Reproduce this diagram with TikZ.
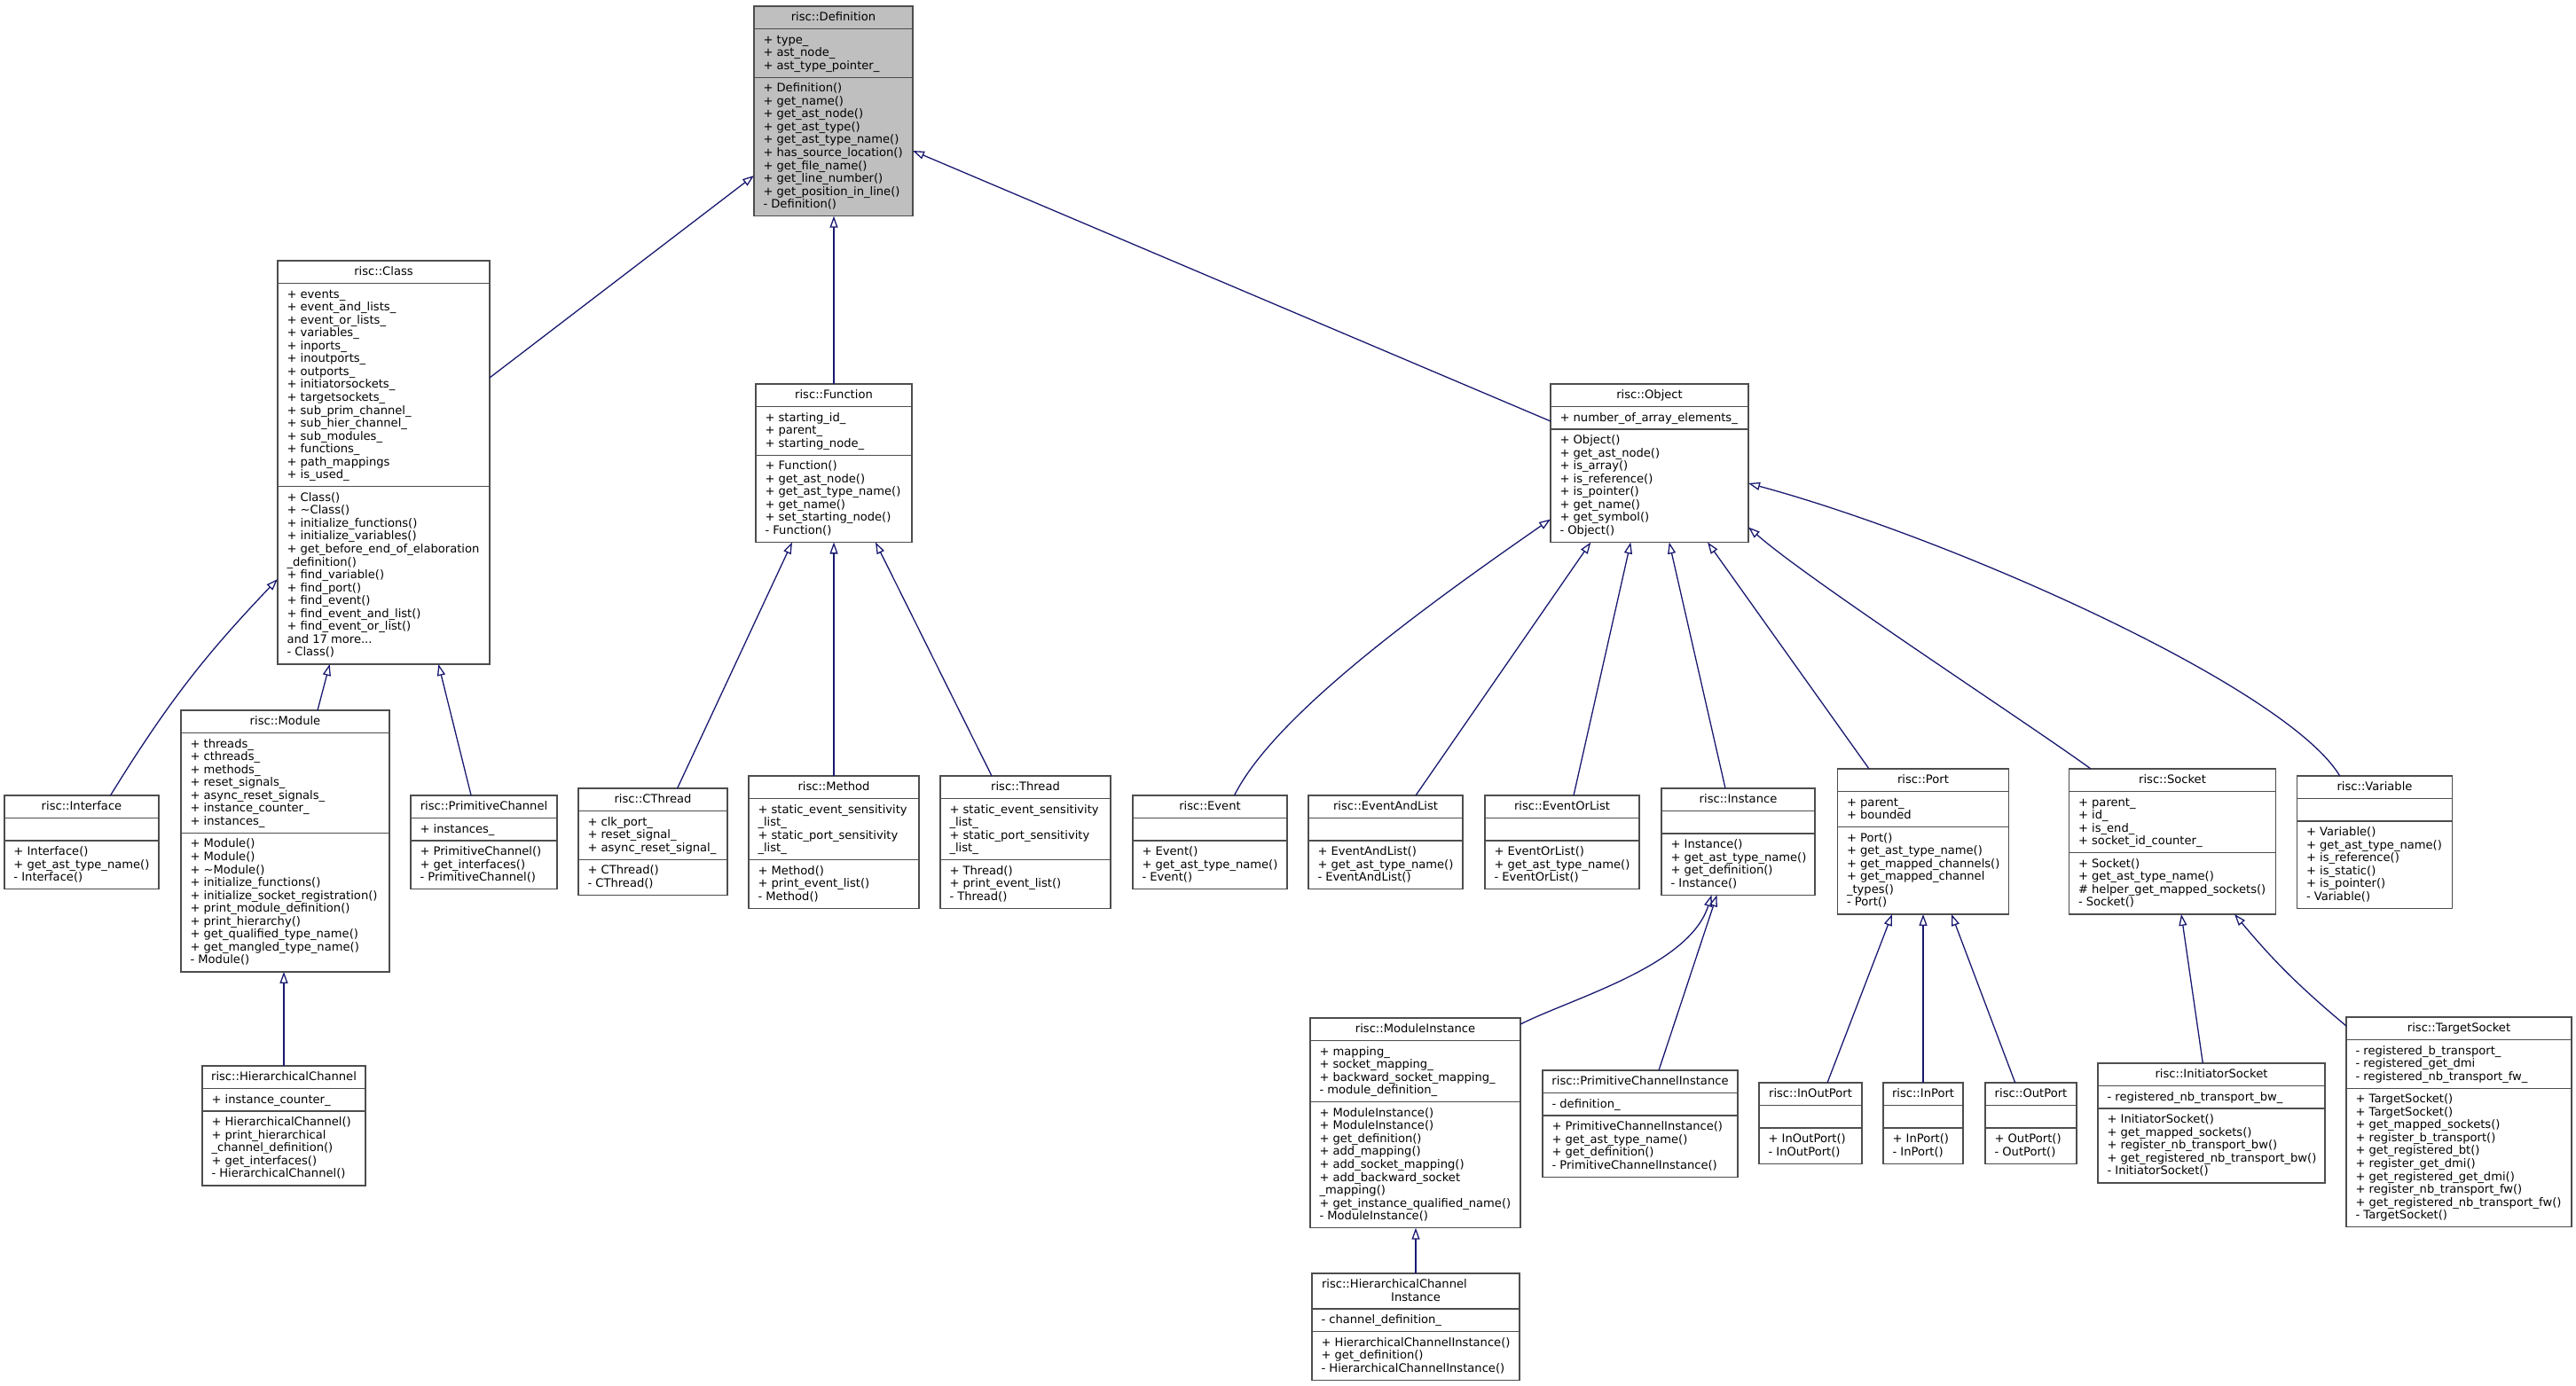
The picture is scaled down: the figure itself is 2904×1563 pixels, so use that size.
\documentclass[tikz,border=0pt]{standalone}
\usepackage{fontspec}
\setmainfont{DejaVu Sans}
\usetikzlibrary{arrows.meta}
\definecolor{edgeblue}{HTML}{191970}
\definecolor{boxline}{HTML}{4D4D4D}
\definecolor{rootfill}{HTML}{BFBFBF}
\newcommand\umlstrut{\vrule height 11pt depth 0pt width 0pt\relax}
\def\umlcounts#1/#2/#3\relax{\def\umlna{#1}\def\umlnb{#2}\def\umlnc{#3}}
\tikzset{
  umlframe/.style={draw=boxline, line width=1.3pt, fill=white, inner sep=0pt, outer sep=0pt, anchor=north west},
  rootframe/.style={fill=rootfill},
  umlsep/.style={draw=boxline, line width=1.3pt},
  umltext/.style={inner sep=0pt, outer sep=0pt, text=black, font=\fontsize{13.1}{14.55}\selectfont, align=left, anchor=north west},
  umltitle/.style={inner sep=0pt, outer sep=0pt, text=black, font=\fontsize{13.1}{14.55}\selectfont, align=center, anchor=north},
  inherit/.style={draw=edgeblue, line width=1.3pt, -{Triangle[open, length=13pt, width=9pt]}},
}
\newcommand\umlbox[9][]{%
  \umlcounts#6\relax
  \pgfmathsetmacro\umlha{11+14.55*max(\umlna,1)}%
  \pgfmathsetmacro\umlhb{11+14.55*max(\umlnb,1)}%
  \pgfmathsetmacro\umlhc{11+14.55*max(\umlnc,1)}%
  \pgfmathsetmacro\umlhab{\umlha+\umlhb}%
  \pgfmathsetmacro\umlhtot{\umlhab+\umlhc}%
  \node[umlframe,#1,minimum width=#5pt,minimum height=\umlhtot pt] (#2) at (#3,#4) {};
  \draw[umlsep] ([yshift=-\umlha pt]#2.north west) -- ([yshift=-\umlha pt]#2.north east);
  \draw[umlsep] ([yshift=-\umlhab pt]#2.north west) -- ([yshift=-\umlhab pt]#2.north east);
  \node[umltitle] (#2-title) at ([yshift=-5.5pt]#2.north) {\umlstrut#7};
  \node[umltext] (#2-attr) at ([xshift=10.5pt,yshift=-\umlha pt-5.5pt]#2.north west) {\umlstrut#8};
  \node[umltext] (#2-meth) at ([xshift=10.5pt,yshift=-\umlhab pt-5.5pt]#2.north west) {\umlstrut#9};
}
\begin{document}
\begin{tikzpicture}[x=1pt,y=-1pt]
\catcode`\_=12\relax
\useasboundingbox (0,0) rectangle (2904,1563);

\umlbox[rootframe]{def}{850}{7}{179}{1/3/10}{risc::Definition}{+ type_\\+ ast_node_\\+ ast_type_pointer_}{+ Definition()\\+ get_name()\\+ get_ast_node()\\+ get_ast_type()\\+ get_ast_type_name()\\+ has_source_location()\\+ get_file_name()\\+ get_line_number()\\+ get_position_in_line()\\- Definition()}

\umlbox{cls}{313}{294}{239}{1/15/13}{risc::Class}{+ events_\\+ event_and_lists_\\+ event_or_lists_\\+ variables_\\+ inports_\\+ inoutports_\\+ outports_\\+ initiatorsockets_\\+ targetsockets_\\+ sub_prim_channel_\\+ sub_hier_channel_\\+ sub_modules_\\+ functions_\\+ path_mappings\\+ is_used_}{+ Class()\\+ \textasciitilde Class()\\+ initialize_functions()\\+ initialize_variables()\\+ get_before_end_of_elaboration\\_definition()\\+ find_variable()\\+ find_port()\\+ find_event()\\+ find_event_and_list()\\+ find_event_or_list()\\and 17 more...\\- Class()}

\umlbox{fun}{852}{433}{176}{1/3/6}{risc::Function}{+ starting_id_\\+ parent_\\+ starting_node_}{+ Function()\\+ get_ast_node()\\+ get_ast_type_name()\\+ get_name()\\+ set_starting_node()\\- Function()}

\umlbox{obj}{1748}{433}{223}{1/1/8}{risc::Object}{+ number_of_array_elements_}{+ Object()\\+ get_ast_node()\\+ is_array()\\+ is_reference()\\+ is_pointer()\\+ get_name()\\+ get_symbol()\\- Object()}

\umlbox{iface}{5}{897}{174}{1/0/3}{risc::Interface}{}{+ Interface()\\+ get_ast_type_name()\\- Interface()}

\umlbox{mod}{204}{801}{235}{1/7/10}{risc::Module}{+ threads_\\+ cthreads_\\+ methods_\\+ reset_signals_\\+ async_reset_signals_\\+ instance_counter_\\+ instances_}{+ Module()\\+ Module()\\+ \textasciitilde Module()\\+ initialize_functions()\\+ initialize_socket_registration()\\+ print_module_definition()\\+ print_hierarchy()\\+ get_qualified_type_name()\\+ get_mangled_type_name()\\- Module()}

\umlbox{prim}{463}{897}{165}{1/1/3}{risc::PrimitiveChannel}{+ instances_}{+ PrimitiveChannel()\\+ get_interfaces()\\- PrimitiveChannel()}

\umlbox{hch}{228}{1202}{184}{1/1/5}{risc::HierarchicalChannel}{+ instance_counter_}{+ HierarchicalChannel()\\+ print_hierarchical\\_channel_definition()\\+ get_interfaces()\\- HierarchicalChannel()}

\umlbox{cthr}{652}{889}{168}{1/3/2}{risc::CThread}{+ clk_port_\\+ reset_signal_\\+ async_reset_signal_}{+ CThread()\\- CThread()}

\umlbox{meth}{844}{875}{192}{1/4/3}{risc::Method}{+ static_event_sensitivity\\_list_\\+ static_port_sensitivity\\_list_}{+ Method()\\+ print_event_list()\\- Method()}

\umlbox{thr}{1060}{875}{192}{1/4/3}{risc::Thread}{+ static_event_sensitivity\\_list_\\+ static_port_sensitivity\\_list_}{+ Thread()\\+ print_event_list()\\- Thread()}

\umlbox{evt}{1277}{897}{174}{1/0/3}{risc::Event}{}{+ Event()\\+ get_ast_type_name()\\- Event()}

\umlbox{evand}{1475}{897}{174}{1/0/3}{risc::EventAndList}{}{+ EventAndList()\\+ get_ast_type_name()\\- EventAndList()}

\umlbox{evor}{1674}{897}{174}{1/0/3}{risc::EventOrList}{}{+ EventOrList()\\+ get_ast_type_name()\\- EventOrList()}

\umlbox{inst}{1873}{889}{173}{1/0/4}{risc::Instance}{}{+ Instance()\\+ get_ast_type_name()\\+ get_definition()\\- Instance()}

\umlbox{port}{2071.5}{867}{193}{1/2/6}{risc::Port}{+ parent_\\+ bounded}{+ Port()\\+ get_ast_type_name()\\+ get_mapped_channels()\\+ get_mapped_channel\\_types()\\- Port()}

\umlbox{sock}{2332.5}{867}{233}{1/4/4}{risc::Socket}{+ parent_\\+ id_\\+ is_end_\\+ socket_id_counter_}{+ Socket()\\+ get_ast_type_name()\\\# helper_get_mapped_sockets()\\- Socket()}

\umlbox{var}{2589.5}{875}{175}{1/0/6}{risc::Variable}{}{+ Variable()\\+ get_ast_type_name()\\+ is_reference()\\+ is_static()\\+ is_pointer()\\- Variable()}

\umlbox{minst}{1477}{1148}{237}{1/4/9}{risc::ModuleInstance}{+ mapping_\\+ socket_mapping_\\+ backward_socket_mapping_\\- module_definition_}{+ ModuleInstance()\\+ ModuleInstance()\\+ get_definition()\\+ add_mapping()\\+ add_socket_mapping()\\+ add_backward_socket\\_mapping()\\+ get_instance_qualified_name()\\- ModuleInstance()}

\umlbox{pcinst}{1739}{1207}{220}{1/1/4}{risc::PrimitiveChannelInstance}{- definition_}{+ PrimitiveChannelInstance()\\+ get_ast_type_name()\\+ get_definition()\\- PrimitiveChannelInstance()}

\umlbox{hcinst}{1479}{1436}{234}{2/1/3}{\makebox[212pt][l]{risc::HierarchicalChannel}\\Instance}{- channel_definition_}{+ HierarchicalChannelInstance()\\+ get_definition()\\- HierarchicalChannelInstance()}

\umlbox{inout}{1983}{1221}{116}{1/0/2}{risc::InOutPort}{}{+ InOutPort()\\- InOutPort()}

\umlbox{inport}{2123}{1221}{90}{1/0/2}{risc::InPort}{}{+ InPort()\\- InPort()}

\umlbox{outport}{2238}{1221}{103}{1/0/2}{risc::OutPort}{}{+ OutPort()\\- OutPort()}

\umlbox{isock}{2365}{1199}{256}{1/1/5}{risc::InitiatorSocket}{- registered_nb_transport_bw_}{+ InitiatorSocket()\\+ get_mapped_sockets()\\+ register_nb_transport_bw()\\+ get_registered_nb_transport_bw()\\- InitiatorSocket()}

\umlbox{tsock}{2645}{1147}{254}{1/3/10}{risc::TargetSocket}{- registered_b_transport_\\- registered_get_dmi\\- registered_nb_transport_fw_}{+ TargetSocket()\\+ TargetSocket()\\+ get_mapped_sockets()\\+ register_b_transport()\\+ get_registered_bt()\\+ register_get_dmi()\\+ get_registered_get_dmi()\\+ register_nb_transport_fw()\\+ get_registered_nb_transport_fw()\\- TargetSocket()}

% inheritance connectors
\draw[inherit] ([yshift=-132pt]cls.north east) -- ([yshift=-191pt]def.north west);
\draw[inherit] (fun.north) -- (fun.north |- def.south);
\draw[inherit] ([yshift=-42pt]obj.north west) -- ([yshift=-163pt]def.north east);
\draw[inherit] ([xshift=32.5pt]iface.north) to[bend left=6] ([yshift=-359pt]cls.north west);
\draw[inherit] ([xshift=36.5pt]mod.north) -- ([xshift=-60.8pt]cls.south);
\draw[inherit] ([xshift=-14.4pt]prim.north) -- ([xshift=61.8pt]cls.south);
\draw[inherit] (hch.north) -- (hch.north |- mod.south);
\draw[inherit] ([xshift=27.6pt]cthr.north) -- ([xshift=-47pt]fun.south);
\draw[inherit] (meth.north) -- (meth.north |- fun.south);
\draw[inherit] ([xshift=-38pt]thr.north) -- ([xshift=47pt]fun.south);
\draw[inherit] ([xshift=27.5pt]evt.north) .. controls +(45,-90) and +(-144,100) .. ([yshift=26pt]obj.south west);
\draw[inherit] ([xshift=34pt]evand.north) -- ([xshift=-66.2pt]obj.south);
\draw[inherit] ([xshift=13pt]evor.north) -- ([xshift=-21.2pt]obj.south);
\draw[inherit] ([xshift=-14.5pt]inst.north) -- ([xshift=22.2pt]obj.south);
\draw[inherit] ([xshift=-61pt]port.north) -- ([xshift=65.5pt]obj.south);
\draw[inherit] ([xshift=-92pt]sock.north) .. controls +(-76,-55) and +(68,60) .. ([yshift=17pt]obj.south east);
\draw[inherit] ([xshift=-39.3pt]var.north) .. controls +(-60,-100) and +(230,62) .. ([yshift=-112pt]obj.north east);
\draw[inherit] ([yshift=-7pt]minst.north east) .. controls +(60,-30) and +(-25,80) .. ([xshift=-30pt]inst.south);
\draw[inherit] ([xshift=21pt]pcinst.north) -- ([xshift=-24pt]inst.south);
\draw[inherit] (hcinst.north) -- (hcinst.north |- minst.south);
\draw[inherit] ([xshift=19pt]inout.north) -- ([xshift=-35pt]port.south);
\draw[inherit] (inport.north) -- (inport.north |- port.south);
\draw[inherit] ([xshift=-17.8pt]outport.north) -- ([xshift=32pt]port.south);
\draw[inherit] ([xshift=-9.7pt]isock.north) -- ([xshift=10pt]sock.south);
\draw[inherit] ([yshift=-10pt]tsock.north west) to[bend left=5] ([xshift=70pt]sock.south);
\end{tikzpicture}
\end{document}
